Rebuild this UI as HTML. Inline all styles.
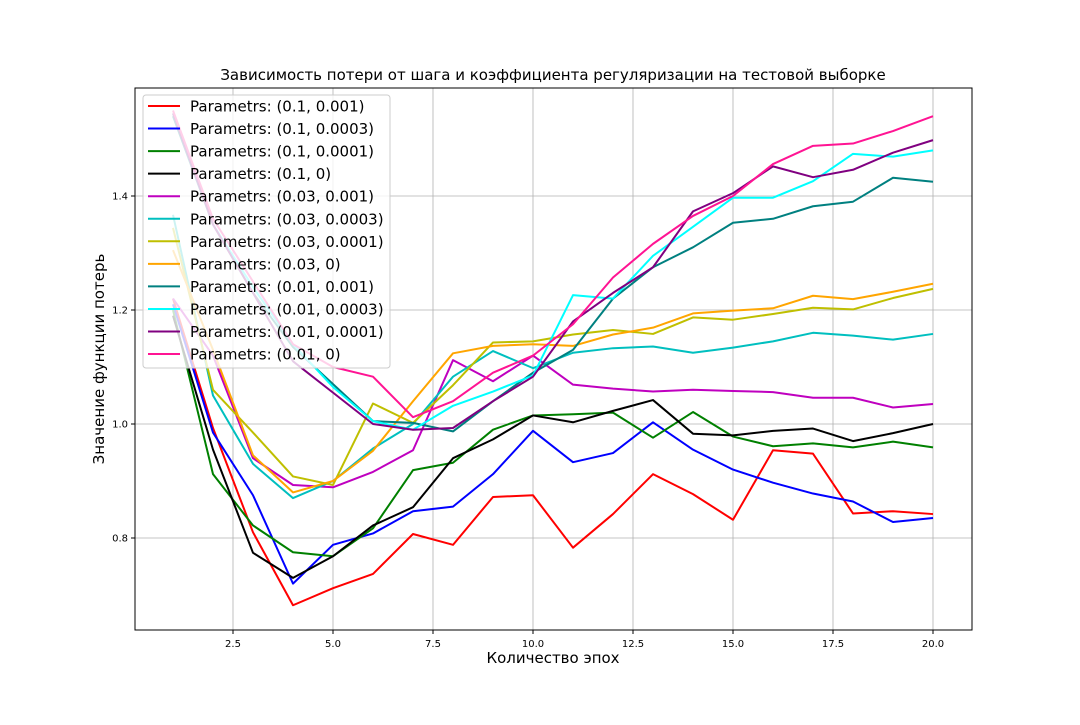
<!DOCTYPE html>
<html><head><meta charset="utf-8"><style>
body{margin:0;background:#fff;}
svg text{font-family:"DejaVu Sans","Liberation Sans",sans-serif;}
</style></head><body>
<svg id="chart" width="1080" height="720">
<rect width="1080" height="720" fill="#fff"/>
<text x="553" y="80" text-anchor="middle" font-size="15">Зависимость потери от шага и коэффициента регуляризации на тестовой выборке</text>
<g id="grid"></g>
<g id="series"></g>
<rect x="135" y="88" width="837" height="542" fill="none" stroke="#000" stroke-width="1"/>
<g id="ticks"></g>
<text x="553" y="663" text-anchor="middle" font-size="15">Количество эпох</text>
<text transform="translate(104,359) rotate(-90)" text-anchor="middle" font-size="15">Значение функции потерь</text>
<g id="legend"></g>
</svg>
<script>
const epochs=[1,2,3,4,5,6,7,8,9,10,11,12,13,14,15,16,17,18,19,20];
const labels=["Parametrs: (0.1, 0.001)","Parametrs: (0.1, 0.0003)","Parametrs: (0.1, 0.0001)","Parametrs: (0.1, 0)","Parametrs: (0.03, 0.001)","Parametrs: (0.03, 0.0003)","Parametrs: (0.03, 0.0001)","Parametrs: (0.03, 0)","Parametrs: (0.01, 0.001)","Parametrs: (0.01, 0.0003)","Parametrs: (0.01, 0.0001)","Parametrs: (0.01, 0)"];
const colors=["#ff0000","#0000ff","#008000","#000000","#bf00bf","#00bfbf","#bfbf00","#ffa500","#008080","#00ffff","#800080","#ff1493"];
const s1=[1.22,0.993,0.81,0.682,0.712,0.737,0.807,0.788,0.872,0.875,0.783,0.842,0.912,0.877,0.832,0.954,0.948,0.843,0.847,0.842];
const s2=[1.21,0.985,0.875,0.72,0.788,0.808,0.847,0.855,0.912,0.988,0.933,0.949,1.003,0.955,0.92,0.897,0.878,0.864,0.828,0.835];
const s3=[1.2,0.912,0.822,0.775,0.768,0.817,0.919,0.932,0.99,1.015,1.017,1.02,0.976,1.021,0.978,0.961,0.966,0.959,0.969,0.959];
const s4=[1.19,0.955,0.774,0.73,0.768,0.822,0.854,0.94,0.973,1.015,1.003,1.023,1.042,0.983,0.98,0.988,0.992,0.97,0.984,1.0];
const s5=[1.22,1.12,0.94,0.893,0.889,0.916,0.954,1.112,1.075,1.12,1.069,1.062,1.057,1.06,1.058,1.056,1.046,1.046,1.029,1.035];
const s6=[1.367,1.05,0.93,0.87,0.9,0.957,1.0,1.083,1.128,1.098,1.125,1.133,1.136,1.125,1.134,1.145,1.16,1.155,1.148,1.158];
const s7=[1.344,1.06,0.985,0.908,0.893,1.036,1.002,1.068,1.143,1.145,1.157,1.165,1.158,1.187,1.183,1.193,1.204,1.201,1.221,1.237];
const s8=[1.305,1.13,0.945,0.88,0.9,0.953,1.04,1.124,1.137,1.14,1.137,1.157,1.169,1.194,1.199,1.203,1.225,1.219,1.232,1.246];
const s9=[1.54,1.35,1.23,1.135,1.07,1.005,1.002,0.987,1.04,1.09,1.13,1.22,1.275,1.31,1.353,1.36,1.382,1.39,1.432,1.425];
const s10=[1.545,1.35,1.24,1.14,1.065,1.005,0.99,1.032,1.057,1.085,1.226,1.22,1.295,1.346,1.397,1.397,1.426,1.474,1.469,1.48];
const s11=[1.545,1.35,1.23,1.11,1.055,1.0,0.99,0.993,1.04,1.083,1.18,1.23,1.275,1.373,1.405,1.452,1.433,1.446,1.476,1.498];
const s12=[1.55,1.36,1.25,1.14,1.1,1.083,1.012,1.04,1.09,1.12,1.175,1.257,1.316,1.365,1.4,1.456,1.488,1.492,1.514,1.54];
const xTicks=[2.5,5.0,7.5,10.0,12.5,15.0,17.5,20.0];
const yTicks=[0.8,1.0,1.2,1.4];
const allSeries=[s1,s2,s3,s4,s5,s6,s7,s8,s9,s10,s11,s12];
const NS="http://www.w3.org/2000/svg";
function X(v){return 173+(v-1)*40;}
function Y(v){return 424-(v-1)*570;}
function mk(t,a,p){const e=document.createElementNS(NS,t);for(const k in a)e.setAttribute(k,a[k]);p.appendChild(e);return e;}
const grid=document.getElementById('grid'),ticks=document.getElementById('ticks'),ser=document.getElementById('series'),leg=document.getElementById('legend');
xTicks.forEach(t=>{
 const l=mk('line',{x1:X(t),x2:X(t),y1:88,y2:630,stroke:'#b0b0b0','stroke-width':0.8},grid);
 
 
 mk('line',{x1:X(t),x2:X(t),y1:630,y2:634,stroke:'#000'},ticks);
 const tx=mk('text',{x:X(t),y:647,'text-anchor':'middle','font-size':10},ticks);
 tx.textContent=t.toFixed(1);
 
 
});
yTicks.forEach(t=>{
 const l=mk('line',{x1:135,x2:972,y1:Y(t),y2:Y(t),stroke:'#b0b0b0','stroke-width':0.8},grid);
 
 
 mk('line',{x1:131,x2:135,y1:Y(t),y2:Y(t),stroke:'#000'},ticks);
 const tx=mk('text',{x:128,y:Y(t)+3.5,'text-anchor':'end','font-size':10},ticks);
 tx.textContent=t.toFixed(1);
 
 
});
allSeries.forEach((s,i)=>{
 const p=mk('polyline',{points:s.map((v,j)=>X(epochs[j])+','+Y(v)).join(' '),fill:'none',stroke:colors[i],'stroke-width':2,'stroke-linejoin':'round'},ser);
 
 
});
const box=mk('rect',{x:143,y:95,width:247,height:273,rx:3,fill:'rgba(255,255,255,0.8)',stroke:'#ccc'},leg);


labels.forEach((lab,i)=>{
 const y=106+i*22.55;
 const g=mk('g',{},leg);
 
 
 mk('line',{x1:148,x2:180,y1:y,y2:y,stroke:colors[i],'stroke-width':2},g);
 const t=mk('text',{x:190,y:y+5.5,'font-size':15},g);
 t.textContent=lab;
});
</script>
</body></html>
